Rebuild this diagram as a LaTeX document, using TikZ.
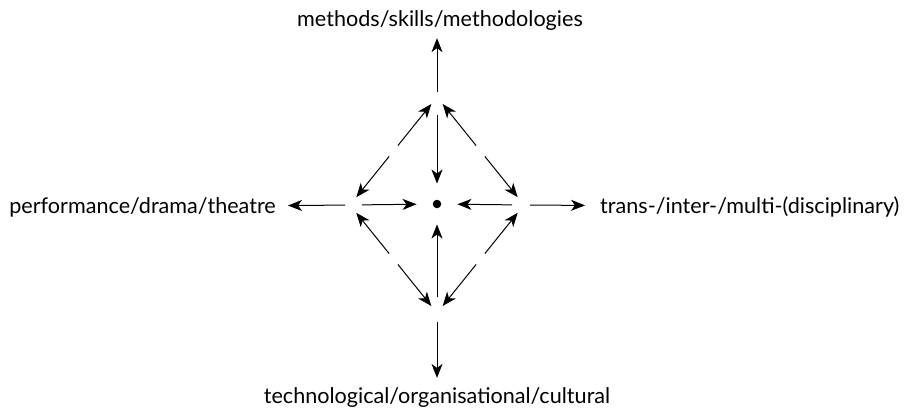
\documentclass[tikz,border=0pt]{standalone}
\usepackage{fontspec}
\setmainfont{Lato}
\usetikzlibrary{arrows.meta,calc}
\begin{document}
\begin{tikzpicture}[x=1pt,y=-1pt,
  arr/.style={line width=1pt,-{Stealth[length=14pt,width=11pt,inset=4pt]}},
  lab/.style={inner sep=0pt,font=\fontsize{21.6}{24}\selectfont}]
\useasboundingbox (0,0) rectangle (907,413);
% corners of the diamond and its centre
\coordinate (T) at (437,97);
\coordinate (L) at (350,205);
\coordinate (R) at (524,205);
\coordinate (B) at (437,313);
\node[circle,fill,inner sep=0pt,minimum size=8.5pt] (C) at (437,204) {};
% labels
\node[lab,anchor=base] (mt) at (440,26) {methods/skills/methodologies};
\node[lab,anchor=base east] (ml) at (276,213) {performance/drama/theatre};
\node[lab,anchor=base west] (mr) at (600,213) {trans-/inter-/multi-(disciplinary)};
\node[lab,anchor=base] (mb) at (437,403) {technological/organisational/cultural};
% outward arrows
\draw[arr,shorten <=5pt,shorten >=8pt] (T) -- (T |- mt.south);
\draw[arr,shorten <=5pt,shorten >=12pt] (L) -- (ml);
\draw[arr,shorten <=6pt,shorten >=15pt] (R) -- (mr);
\draw[arr,shorten <=9pt,shorten >=9pt] (B) -- (mb);
% arrows into the centre
\draw[arr,shorten <=18pt,shorten >=16pt] (T) -- (C);
\draw[arr,shorten <=12pt,shorten >=16pt] (L) -- (C);
\draw[arr,shorten <=12pt,shorten >=16pt] (R) -- (C);
\draw[arr,shorten <=16pt,shorten >=16pt] (B) -- (C);
% diamond sides: two arrows from each midpoint
\foreach \a/\b/\m in {T/L/tl,T/R/tr,B/L/bl,B/R/br}{
  \coordinate (\m) at ($(\a)!0.5!(\b)$);
  \draw[arr,shorten <=7pt,shorten >=9pt] (\m) -- (\a);
  \draw[arr,shorten <=7pt,shorten >=10pt] (\m) -- (\b);
}
\end{tikzpicture}
\end{document}
